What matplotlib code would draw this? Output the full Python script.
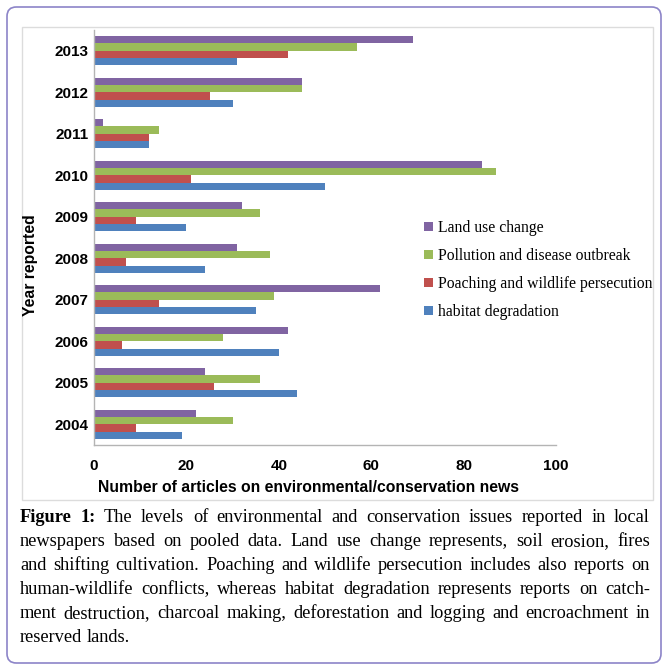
import matplotlib
matplotlib.use('Agg')
import matplotlib.pyplot as plt
from matplotlib.patches import Rectangle, FancyBboxPatch, Patch

W, H = 665, 666

years = ['2004', '2005', '2006', '2007', '2008', '2009', '2010', '2011', '2012', '2013']
land_use = [22, 24, 42, 62, 31, 32, 84, 2, 45, 69]
pollution = [30, 36, 28, 39, 38, 36, 87, 14, 45, 57]
poaching = [9, 26, 6, 14, 7, 9, 21, 12, 25, 42]
habitat = [19, 44, 40, 35, 24, 20, 50, 12, 30, 31]

series_names = ['Land use change', 'Pollution and disease outbreak',
                'Poaching and wildlife persecution', 'habitat degradation']
colors = ['#8064A2', '#9BBB59', '#C0504D', '#4F81BD']
x_ticks = [0, 20, 40, 60, 80, 100]

caption_lines = [
	'Figure 1: The levels of environmental and conservation issues reported in local',
	'newspapers based on pooled data. Land use change represents, soil erosion, fires',
	'and shifting cultivation. Poaching and wildlife persecution includes also reports on',
	'human-wildlife conflicts, whereas habitat degradation represents reports on catch-',
	'ment destruction, charcoal making, deforestation and logging and encroachment in',
	'reserved lands.',
]

SANS = ['Liberation Sans', 'DejaVu Sans']
SERIF = ['Liberation Serif', 'DejaVu Serif']


def fx(x):
	return x / W


def fy(y):
	return 1 - y / H


fig = plt.figure(figsize=(W / 100, H / 100), dpi=100)
fig.patch.set_facecolor('white')

# outer rounded border and inner chart frame
fig.patches.append(FancyBboxPatch((fx(7), fy(663)), fx(654), 656 / H,
                                  boxstyle='round,pad=0,rounding_size=0.014',
                                  transform=fig.transFigure, facecolor='none',
                                  edgecolor='#8c84c8', linewidth=1.2))
fig.patches.append(Rectangle((fx(22), fy(500)), fx(631), 473 / H,
                             transform=fig.transFigure, facecolor='none',
                             edgecolor='#dcdcdc', linewidth=1))

ax = fig.add_axes([fx(94), fy(445), fx(556 - 94), (445 - 30) / H])

h = 0.176
pos = list(range(len(years)))
all_series = [land_use, pollution, poaching, habitat]
offsets = [1.5 * h, 0.5 * h, -0.5 * h, -1.5 * h]
for vals, off, c, name in zip(all_series, offsets, colors, series_names):
	ax.barh([p + off for p in pos], vals, height=h, color=c, label=name)

ax.set_xlim(0, 100)
ax.set_ylim(-0.5, 9.5)
ax.set_yticks(pos)
ax.set_yticklabels(years)
ax.set_xticks(x_ticks)
ax.set_xticklabels([str(t) for t in x_ticks])
for lab in ax.get_xticklabels() + ax.get_yticklabels():
	lab.set_family(SANS)
	lab.set_fontweight('bold')
	lab.set_fontsize(11)
ax.tick_params(axis='both', length=0)
ax.tick_params(axis='y', pad=4)
ax.tick_params(axis='x', pad=10)
for s in ['top', 'right']:
	ax.spines[s].set_visible(False)
for s in ['left', 'bottom']:
	ax.spines[s].set_color('#b4b4b4')
	ax.spines[s].set_linewidth(1)

fig.text(fx(308), fy(488), 'Number of articles on environmental/conservation news',
         ha='center', va='center', fontsize=11.3, fontweight='bold', family=SANS)
fig.text(fx(31), fy(265), 'Year reported', ha='center', va='center', rotation=90,
         fontsize=11.3, fontweight='bold', family=SANS)

handles = [Patch(facecolor=c, edgecolor='none') for c in colors]
ax.legend(handles, series_names, loc='upper left', bbox_to_anchor=(fx(424), fy(220)),
          bbox_transform=fig.transFigure, frameon=False, borderpad=0, borderaxespad=0,
          handlelength=0.55, handleheight=0.55, handletextpad=0.35, labelspacing=0.77,
          prop={'family': SERIF, 'size': 11.3})

# caption, justified word by word
renderer = fig.canvas.get_renderer()
cap_size = 13.2
x_left, x_right = 20, 650
for i, line in enumerate(caption_lines):
	y = 522 + 24 * i
	words = line.split(' ')
	texts = []
	for j, w in enumerate(words):
		bold = i == 0 and j < 2
		t = fig.text(0, fy(y), w, ha='left', va='baseline', fontsize=cap_size,
		             family=SERIF, fontweight='bold' if bold else 'normal')
		texts.append(t)
	widths = [t.get_window_extent(renderer).width for t in texts]
	if i < len(caption_lines) - 1:
		gap = (x_right - x_left - sum(widths)) / (len(texts) - 1)
	else:
		gap = cap_size * 100 / 72 * 0.25
	x = x_left
	for t, wd in zip(texts, widths):
		t.set_x(fx(x))
		x += wd + gap

fig.savefig('out.png', dpi=100)
